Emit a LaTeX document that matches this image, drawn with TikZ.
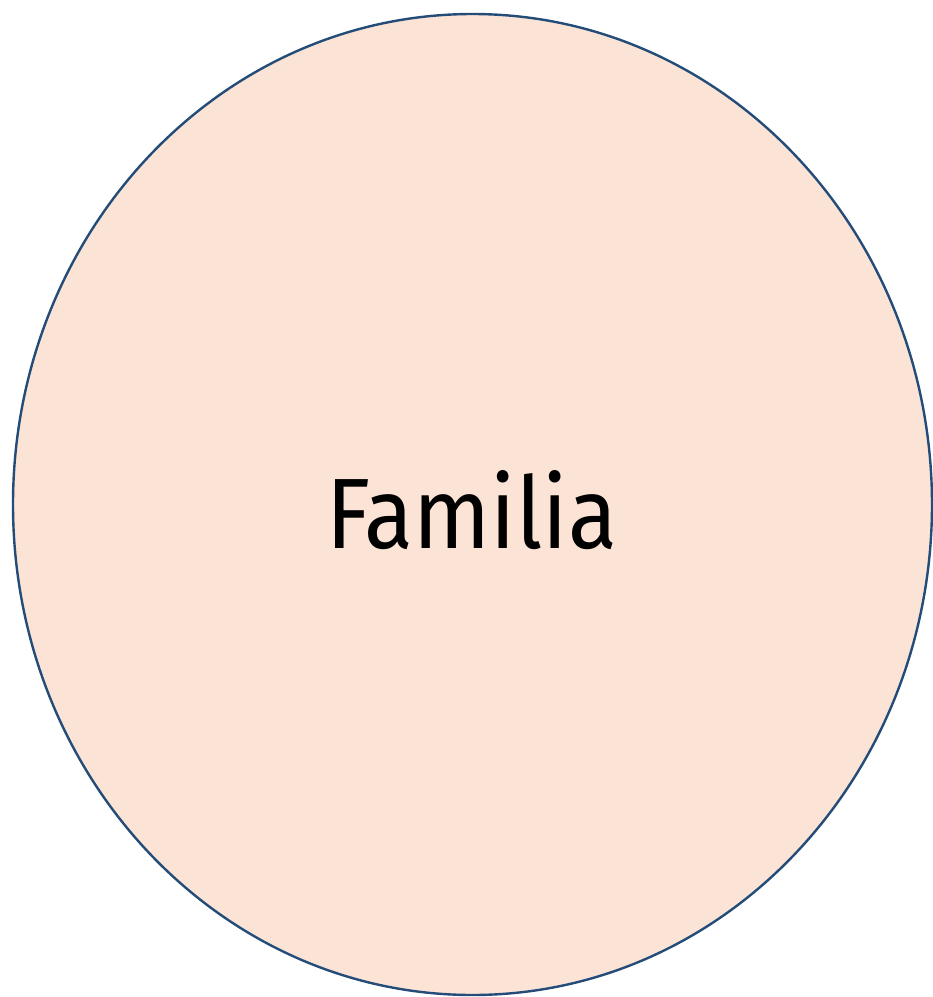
\documentclass[tikz,border=0pt]{standalone}
\usepackage{fontspec}
\setmainfont{Fira Sans}
\usetikzlibrary{shapes.geometric}
\definecolor{ringline}{RGB}{36,76,120}
\definecolor{ringfill}{RGB}{251,227,214}
\tikzset{
  ring/.style={draw=ringline, fill=ringfill, line width=2.4pt},
  famtext/.style={font=\fontsize{100}{110}\selectfont, text=black, inner sep=0pt, xscale=0.9, transform shape}
}
\begin{document}
\begin{tikzpicture}[x=1pt,y=-1pt]
\useasboundingbox (0,0) rectangle (933,997);
\node[ring, ellipse, minimum width=919pt, minimum height=981pt, inner sep=0pt] (circ) at (472.5,504.5) {};
\node[famtext, anchor=base] (txt) at (471.5,548) {Familia};
\end{tikzpicture}
\end{document}
